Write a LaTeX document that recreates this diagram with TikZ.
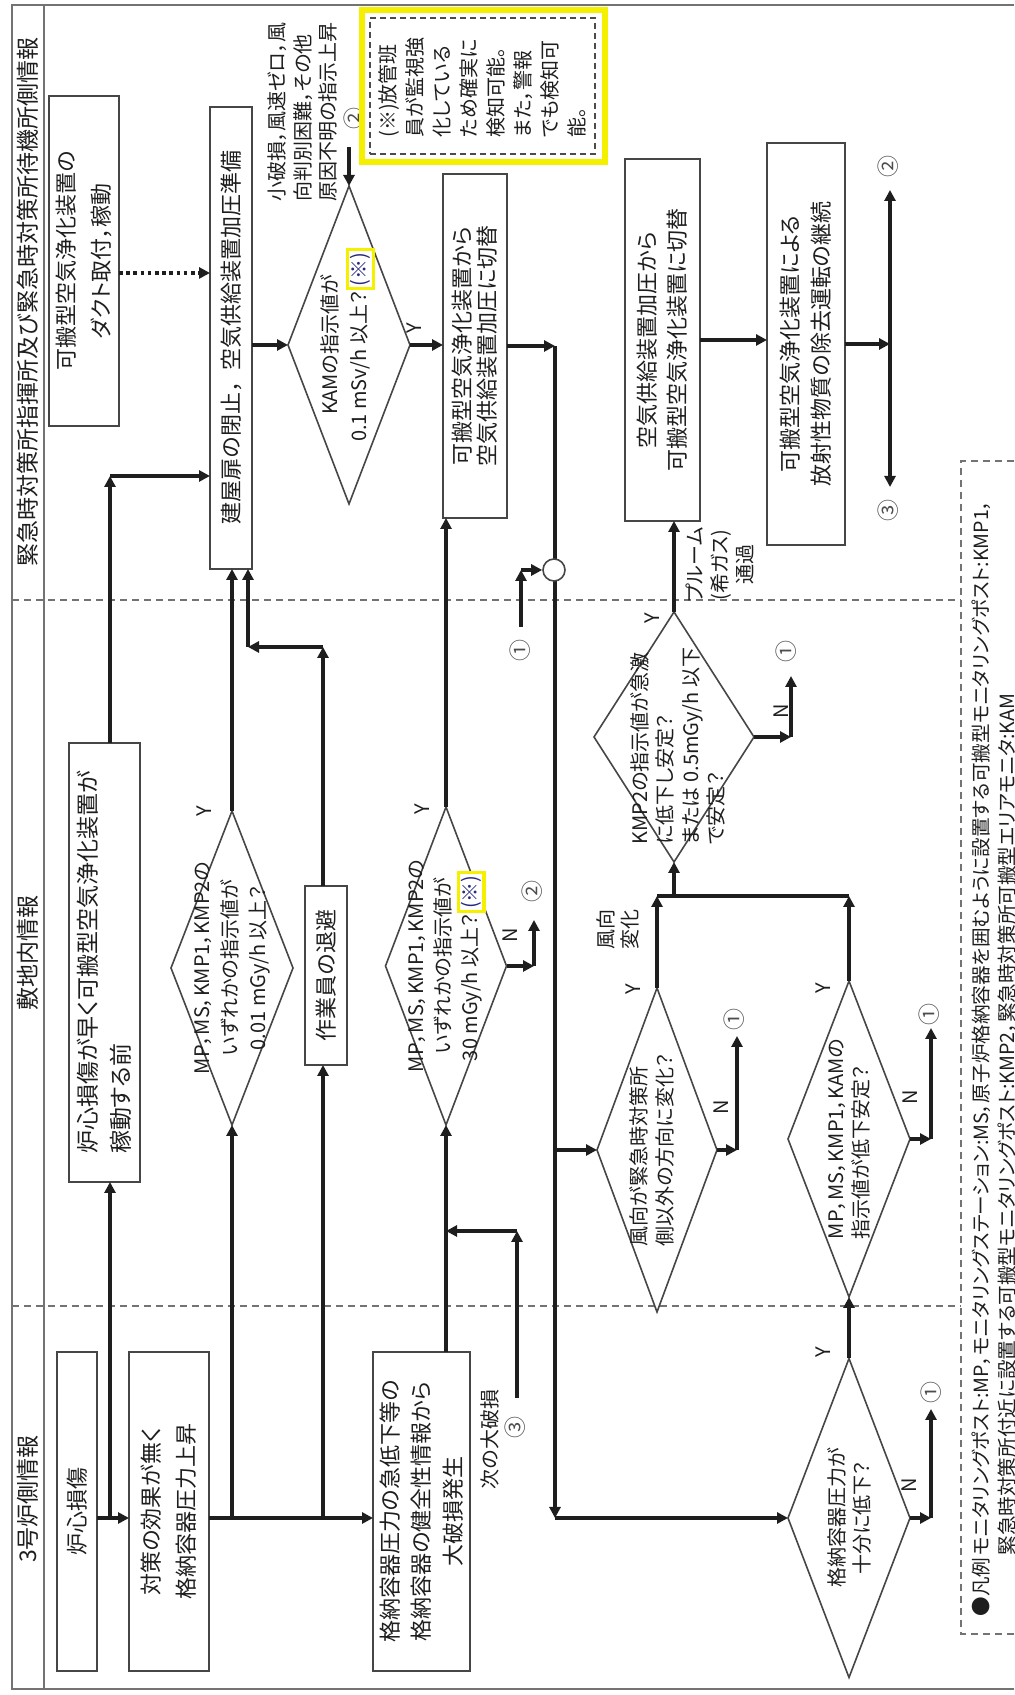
\documentclass[tikz,border=0pt]{standalone}
\usepackage{fontspec}
\setmainfont[RawFeature=+palt]{Noto Sans CJK JP}
\newfontfamily\fwfont{Noto Sans CJK JP}
\usetikzlibrary{arrows.meta,shapes.geometric}
\definecolor{ink}{RGB}{30,30,30}
\definecolor{edge}{RGB}{70,70,70}
\definecolor{navy}{RGB}{40,40,130}
\definecolor{hl}{RGB}{245,240,0}
\newcommand\ybox[1]{{\setlength\fboxsep{0.6pt}\setlength\fboxrule{1.6pt}\fcolorbox{hl}{white}{\textcolor{navy}{#1}}}}
\tikzset{
  box/.style={draw=edge, line width=0.8pt, rectangle, inner sep=0pt, outer sep=0pt, align=center, text=ink, font=\fontsize{11}{15}\selectfont},
  dia/.style={draw=edge, line width=0.8pt, diamond, inner sep=0pt, outer sep=0pt},
  dtext/.style={align=center, inner sep=0pt, text=ink, font=\fontsize{10}{13}\selectfont},
  lab/.style={inner sep=0pt, text=ink, font=\fontsize{10}{12}\selectfont},
  num/.style={inner sep=0pt, text=black!70, font=\fontsize{11}{12}\selectfont},
  arr/.style={draw=ink, line width=1.75pt, -{Triangle[length=5.5pt,width=5.5pt]}},
  ln/.style={draw=ink, line width=1.75pt},
  dotarr/.style={draw=ink, line width=1.8pt, dash pattern=on 1.8pt off 1.8pt, -{Triangle[length=5.5pt,width=5.5pt]}},
  divider/.style={draw=black!55, line width=0.7pt, dash pattern=on 3.5pt off 2.5pt},
  frame/.style={draw=black!55, line width=0.8pt},
}
\begin{document}
\begin{tikzpicture}[x=0.5pt,y=-0.5pt,rotate=90,transform shape]
\useasboundingbox (0,0) rectangle (1695,1014);
% frame and columns
\draw[frame] (6,1014) -- (6,12) -- (1690,12) -- (1690,1014);
\draw[frame] (6,44) -- (1690,44);
\draw[divider] (389,12) -- (389,961);
\draw[divider] (1095,12) -- (1095,961);
\node[lab, font=\fontsize{11.5}{12}\selectfont] (h1) at (196,28) {3号炉側情報};
\node[lab, font=\fontsize{11.5}{12}\selectfont] (h2) at (742,28) {敷地内情報};
\node[lab, font=\fontsize{11.5}{12}\selectfont] (h3) at (1393,28) {緊急時対策所指揮所及び緊急時対策所待機所側情報};

% boxes
\node[box, minimum width=159.5pt, minimum height=20pt] (A) at (183.5,77) {炉心損傷};
\node[box, minimum width=159.5pt, minimum height=40pt, font=\fontsize{11}{17.5}\selectfont] (B) at (183.5,169) {対策の効果が無く\\格納容器圧力上昇};
\node[box, minimum width=219.5pt, minimum height=35.5pt, align=left, font=\fontsize{11.5}{16.5}\selectfont] (C) at (732.5,104.5) {炉心損傷が早く可搬型空気浄化装置が\\稼動する前};
\node[box, minimum width=231pt, minimum height=21pt, font=\fwfont\fontsize{11}{15}\selectfont] (D) at (1357,231) {建屋扉の閉止，空気供給装置加圧準備};
\node[box, minimum width=165pt, minimum height=35pt, font=\fontsize{11}{17.5}\selectfont] (E) at (1434,84) {可搬型空気浄化装置の\\ダクト取付，稼動};
\node[box, minimum width=172pt, minimum height=32pt, font=\fontsize{11}{12.5}\selectfont] (G) at (1349,475) {可搬型空気浄化装置から\\空気供給装置加圧に切替};
\node[box, minimum width=201pt, minimum height=39pt, font=\fontsize{11}{15.5}\selectfont] (H) at (1351,806) {可搬型空気浄化装置による\\放射性物質の除去運転の継続};
\node[box, minimum width=181pt, minimum height=37.5pt, font=\fontsize{11}{15}\selectfont] (J) at (1355,662.5) {空気供給装置加圧から\\可搬型空気浄化装置に切替};
\node[box, minimum width=89.5pt, minimum height=21pt] (P) at (719.5,326) {作業員の退避};
\node[box, minimum width=159.5pt, minimum height=48.5pt, font=\fontsize{11}{15.75}\selectfont] (N) at (183.5,421.5) {格納容器圧力の急低下等の\\格納容器の健全性情報から\\大破損発生};

% diamonds
\node[dia, minimum width=159pt, minimum height=61pt] (F) at (1350,349) {};
\node[dtext, font=\fontsize{10}{14.5}\selectfont] (Ft) at (1350,348) {KAMの指示値が\\0.1 mSv/h 以上？\ybox{(※)}};
\node[dia, minimum width=157pt, minimum height=61pt] (M1) at (727,232) {};
\node[dtext, font=\fontsize{10}{14}\selectfont] (M1t) at (727,232) {MP，MS，KMP1，KMP2の\\いずれかの指示値が\\0.01 mGy/h 以上？};
\node[dia, minimum width=159pt, minimum height=60.5pt] (M2) at (729,446) {};
\node[dtext, font=\fontsize{10}{13.5}\selectfont] (M2t) at (729,447) {MP，MS，KMP1，KMP2の\\いずれかの指示値が\\30 mGy/h 以上？\ybox{(※)}};
\node[dia, minimum width=125pt, minimum height=80pt] (I) at (958,674) {};
\node[dtext, anchor=west, align=left, font=\fontsize{10}{12.7}\selectfont] (It) at (850,678) {KMP2の指示値が急激\\に低下し安定？\\または 0.5mGy/h 以下\\で安定？};
\node[dia, minimum width=162pt, minimum height=60pt] (W) at (545,657) {};
\node[dtext, align=left] (Wt) at (545,652) {風向が緊急時対策所\\側以外の方向に変化？};
\node[dia, minimum width=158pt, minimum height=61pt] (L) at (556,849) {};
\node[dtext, align=left, font=\fontsize{10}{12.5}\selectfont] (Lt) at (556,849.5) {MP，MS，KMP1，KAMの\\指示値が低下安定？};
\node[dia, minimum width=159.5pt, minimum height=61pt] (K) at (177,849) {};
\node[dtext, font=\fontsize{10}{12.5}\selectfont] (Kt) at (177,849.5) {格納容器圧力が\\十分に低下？};

% coordinates
\coordinate (jAB) at (177,110);
\coordinate (jM1) at (177,232);
\coordinate (jP) at (177,323);
\coordinate (cCD) at (1219,110);
\coordinate (cED) at (1422,160);
\coordinate (pD1) at (1048,323);
\coordinate (pD2) at (1048,248);
\coordinate (in2) at (1548,349);
\coordinate (gR) at (1352,555);
\coordinate (kC) at (177,555);
\coordinate (jW) at (545,555);
\coordinate (c1s) at (1068,521);
\coordinate (c1b) at (1125,521);
\coordinate (nx1) at (297,517);
\coordinate (nx2) at (464,517);
\coordinate (m2n1) at (729,534);
\coordinate (m2n2) at (775,534);
\coordinate (in1) at (958,791);
\coordinate (in1b) at (1019,791);
\coordinate (mg1) at (799,657);
\coordinate (mg2) at (799,849);
\coordinate (wn1) at (545,737);
\coordinate (wn2) at (659,737);
\coordinate (ln1) at (556,931);
\coordinate (ln2) at (667,931);
\coordinate (kn1) at (177,931);
\coordinate (kn2) at (286,931);
\coordinate (hr) at (1351,890);
\coordinate (r2) at (1505,890);
\coordinate (r3) at (1208,890);

% connectors: left part
\draw[arr] (jAB |- A.south) -- (jAB |- B.north);
\draw[arr] (jAB) -- (C.west |- jAB);
\draw[arr] (C.east |- cCD) -- (cCD);
\draw[arr] (cCD) -- (cCD |- D.north);
\draw[dotarr] (cED |- E.south) -- (cED |- D.north);
\draw[arr] (jAB |- B.south) -- (jAB |- N.north);
\draw[arr] (jM1) -- (M1.west);
\draw[arr] (jP) -- (P.west |- jP);
\draw[arr] (M1.east) -- (D.west |- M1.east);
\draw[arr] (P.east |- pD1) -- (pD1);
\draw[arr] (pD1) -- (pD2);
\draw[arr] (pD2) -- (D.west |- pD2);
\draw[arr] (F.north |- D.south) -- (F.north);
\draw[arr] (in2) -- (F.east);
\draw[arr] (F.south) -- (F.south |- G.north);
\draw[arr] (N.east |- M2.west) -- (M2.west);
\draw[arr] (nx1) -- (nx2);
\draw[arr] (nx2) -- (nx2 |- M2.west);
\draw[arr] (M2.east) -- (G.west |- M2.east);
\draw[arr] (M2.south) -- (m2n1);
\draw[arr] (m2n1) -- (m2n2);
% long return line
\draw[arr] (G.south) -- (G.south |- gR);
\draw[arr] (G.south |- gR) -- (kC);
\draw[arr] (kC) -- (kC |- K.north);
\draw[arr] (jW) -- (W.north);
\node[circle, draw=edge, fill=white, line width=0.8pt, minimum size=11pt, inner sep=0pt] (circ) at (1125,554) {};
\draw[arr] (c1s) -- (c1b);
\draw[arr] (c1b) -- (circ.north);
% right part
\draw[arr] (I.east) -- (J.west |- I.east);
\draw[arr] (I.south) -- (in1);
\draw[arr] (in1) -- (in1b);
\draw[arr] (W.east) -- (mg1);
\draw[arr] (L.east) -- (mg2);
\draw[ln] (mg1) -- (mg2);
\draw[arr] (mg1 |- I.west) -- (I.west);
\draw[arr] (W.south) -- (wn1);
\draw[arr] (wn1) -- (wn2);
\draw[arr] (L.south) -- (ln1);
\draw[arr] (ln1) -- (ln2);
\draw[arr] (K.east) -- (L.west);
\draw[arr] (K.south) -- (kn1);
\draw[arr] (kn1) -- (kn2);
\draw[arr] (J.south) -- (J.south |- H.north);
\draw[arr] (H.south) -- (H.south |- hr);
\draw[arr] (H.south |- hr) -- (r2);
\draw[arr] (H.south |- hr) -- (r3);

% labels
\node[lab] (yF) at (1367,414) {Y};
\node[lab] (yM1) at (884,204) {Y};
\node[lab] (yM2) at (886,422) {Y};
\node[lab] (yI) at (1077,652) {Y};
\node[lab] (yW) at (706,633) {Y};
\node[lab] (yL) at (707,823) {Y};
\node[lab] (yK) at (343,823) {Y};
\node[lab] (nM2) at (760,510) {N};
\node[lab] (nI) at (984,781) {N};
\node[lab] (nW) at (588,721) {N};
\node[lab] (nL) at (598,910) {N};
\node[lab] (nK) at (210,909) {N};
\node[num] (o1a) at (1044,520) {①};
\node[num] (o1b) at (1043,786) {①};
\node[num] (o1c) at (675,734) {①};
\node[num] (o1d) at (680,929) {①};
\node[num] (o1e) at (302,931) {①};
\node[num] (o2a) at (803,532) {②};
\node[num] (o2b) at (1576,354) {②};
\node[num] (o2c) at (1528,888) {②};
\node[num] (o3a) at (1184,888) {③};
\node[num] (o3b) at (267,515) {③};
\node[lab] (nextbig) at (255.5,490) {次の大破損};
\node[lab, anchor=west, align=left, font=\fontsize{10}{12.75}\selectfont] (small) at (1493,302.5) {小破損，風速ゼロ，風\\向判別困難，その他\\原因不明の指示上昇};
\node[lab, align=center, font=\fontsize{10}{12.6}\selectfont] (plume) at (1130,720) {プルーム\\(希ガス)\\通過};
\node[lab, align=center, font=\fontsize{10}{12.3}\selectfont] (wind) at (765,618) {風向\\変化};

% note
\draw[draw=hl, line width=3pt] (1533,362) rectangle (1685,605);
\draw[draw=black!70, line width=0.8pt, dash pattern=on 3pt off 2pt] (1541,370) rectangle (1677,595);
\node[lab, anchor=west, align=left, font=\fontsize{10}{13.5}\selectfont] (note) at (1557,482) {(※)放管班\\員が監視強\\化している\\ため確実に\\検知可能。\\また，警報\\でも検知可\\能。};

% legend
\draw[divider] (61,1014) -- (61,961) -- (1234,961) -- (1234,1014);
\node[lab, anchor=west, font=\fontsize{9.8}{13}\selectfont] (lgh) at (78,981) {●凡例};
\node[lab, anchor=west, align=left, font=\fontsize{9.8}{13}\selectfont] (lg) at (139,994) {モニタリングポスト:MP，モニタリングステーション:MS，原子炉格納容器を囲むように設置する可搬型モニタリングポスト:KMP1，\\緊急時対策所付近に設置する可搬型モニタリングポスト:KMP2，緊急時対策所可搬型エリアモニタ:KAM};
\end{tikzpicture}
\end{document}
